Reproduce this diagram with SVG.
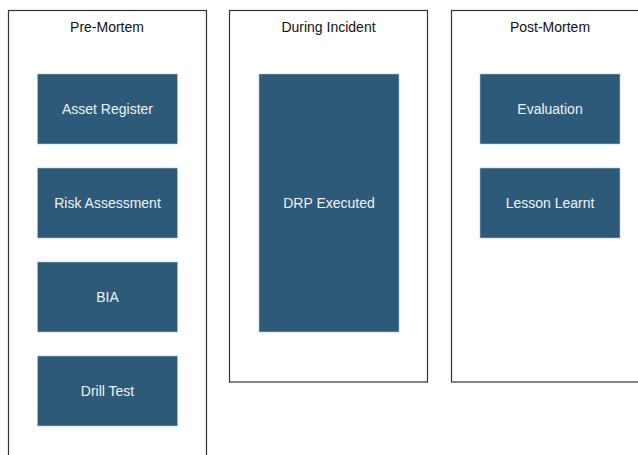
<svg xmlns="http://www.w3.org/2000/svg" width="638" height="455" viewBox="0 0 638 455">
  <style>
    .lane { fill: #ffffff; stroke: #333333; stroke-width: 1.2; }
    .lane-title { font-family: "Liberation Sans", Arial, sans-serif; font-size: 14px; fill: #111111; text-anchor: middle; }
    .step { fill: #2e5a7a; stroke: #a9c3d6; stroke-width: 0.6; }
    .step-label { font-family: "Liberation Sans", Arial, sans-serif; font-size: 14px; fill: #eef3f7; text-anchor: middle; dominant-baseline: central; }
  </style>
  <rect width="638" height="455" fill="#ffffff"/>

  <!-- swimlanes -->
  <g id="lane-pre-mortem">
    <rect class="lane" x="8.5" y="10.5" width="198" height="460"/>
    <text class="lane-title" x="107" y="32">Pre-Mortem</text>
  </g>
  <g id="lane-during-incident">
    <rect class="lane" x="229.5" y="10.5" width="198" height="371.5"/>
    <text class="lane-title" x="328.5" y="32">During Incident</text>
  </g>
  <g id="lane-post-mortem">
    <rect class="lane" x="451.5" y="10.5" width="198" height="371.5"/>
    <text class="lane-title" x="550" y="32">Post-Mortem</text>
  </g>

  <!-- steps -->
  <g id="asset-register">
    <rect class="step" x="37.5" y="74" width="140" height="70"/>
    <text class="step-label" x="107.5" y="109">Asset Register</text>
  </g>
  <g id="risk-assessment">
    <rect class="step" x="37.5" y="168" width="140" height="70"/>
    <text class="step-label" x="107.5" y="203">Risk Assessment</text>
  </g>
  <g id="bia">
    <rect class="step" x="37.5" y="262" width="140" height="70"/>
    <text class="step-label" x="107.5" y="297">BIA</text>
  </g>
  <g id="drill-test">
    <rect class="step" x="37.5" y="356" width="140" height="70"/>
    <text class="step-label" x="107.5" y="391">Drill Test</text>
  </g>
  <g id="drp-executed">
    <rect class="step" x="259" y="74" width="140" height="258"/>
    <text class="step-label" x="329" y="203">DRP Executed</text>
  </g>
  <g id="evaluation">
    <rect class="step" x="480" y="74" width="140" height="70"/>
    <text class="step-label" x="550" y="109">Evaluation</text>
  </g>
  <g id="lesson-learnt">
    <rect class="step" x="480" y="168" width="140" height="70"/>
    <text class="step-label" x="550" y="203">Lesson Learnt</text>
  </g>

  <!-- no connectors between steps -->
  <g id="connectors"/>
</svg>
